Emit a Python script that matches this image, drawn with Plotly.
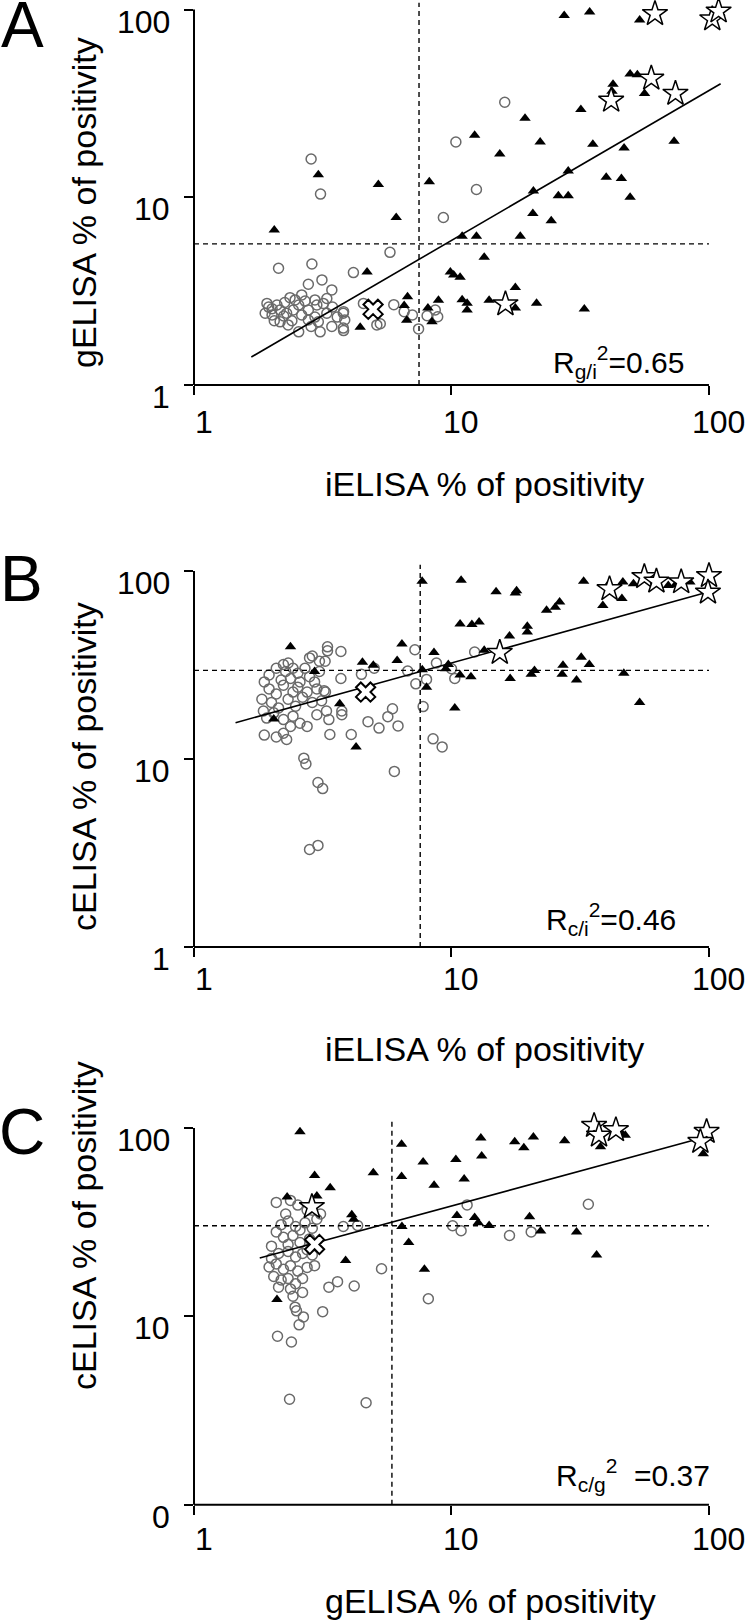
import plotly.graph_objects as go

# ---- panel A : iELISA (x) vs gELISA (y) ----
a_circ_x = [16.1, 10.4, 12.5, 9.3, 5.77, 2.85, 3.10, 2.13, 2.87, 4.16, 3.14, 2.78, 3.43,
            2.36, 2.62, 2.95, 3.28, 1.92, 2.10, 1.89, 2.01, 2.16, 2.29, 2.43, 2.55, 2.78, 3.0,
            3.18, 3.28, 2.78, 3.04, 3.43, 3.80, 3.80, 3.85, 2.16, 2.32, 2.55, 3.09, 2.47, 2.01,
            2.23, 2.62, 2.95, 4.55, 5.13, 1.95, 2.25, 2.70, 3.45, 2.40, 2.85, 2.05, 3.60,
            5.97, 5.29, 6.55, 7.05, 7.45, 8.04, 8.65, 8.84, 3.81, 3.81]
a_circ_y = [32.1, 19.7, 11.0, 7.8, 5.09, 16.0, 10.4, 4.19, 4.41, 3.97, 3.63, 3.44, 3.21,
            2.92, 3.02, 2.84, 2.89, 2.72, 2.67, 2.41, 2.36, 2.51, 2.41, 2.51, 2.67, 2.51, 2.67,
            2.72, 2.41, 2.22, 2.17, 2.05, 2.01, 2.41, 2.22, 2.17, 2.09, 1.92, 1.92, 2.84, 2.55,
            2.33, 2.36, 2.30, 2.72, 2.09, 2.60, 2.75, 2.80, 2.60, 2.20, 2.05, 2.20, 2.30,
            2.68, 2.12, 2.46, 2.36, 1.99, 2.34, 2.51, 2.31, 2.46, 1.95]
a_tri_x = [27.4, 34.4, 53.8, 49.4, 52.7, 42.4, 42.0, 56.2, 31.8, 19.3, 12.3, 22.1, 35.4, 73.2,
           15.4, 46.8, 28.4, 39.9, 45.7, 8.2, 5.2, 3.04, 20.8, 26.0, 28.4, 49.4, 20.7, 24.4,
           6.1, 2.05, 11.0, 12.5, 18.5, 13.4, 4.7, 9.9, 10.2, 10.8, 17.7, 6.75, 8.9, 11.0,
           11.5, 11.5, 14.0, 17.7, 21.4, 32.8, 6.55, 6.7, 8.1, 8.4, 4.42]
a_tri_y = [93.1, 97.0, 88.0, 45.4, 45.0, 40.0, 36.7, 35.7, 29.4, 26.4, 21.4, 19.7, 19.2, 19.9,
           17.0, 18.3, 13.8, 12.8, 12.6, 12.1, 11.7, 13.2, 10.8, 10.2, 10.2, 10.0, 8.2, 7.5,
           7.8, 6.7, 6.2, 6.2, 6.2, 4.8, 4.0, 4.0, 3.86, 3.75, 3.31, 2.95, 2.83, 2.85,
           2.73, 2.51, 2.83, 2.57, 2.73, 2.54, 2.65, 2.21, 2.57, 2.17, 2.03]
a_star_x = [61.7, 103, 109, 59.7, 41.7, 74.1, 16.2]
a_star_y = [95.0, 89.0, 98.0, 43.0, 32.8, 35.7, 2.70]
a_cross_x = [4.96]
a_cross_y = [2.53]
a_fit_x = [1.67, 111]
a_fit_y = [1.41, 40.3]
a_cut_x = 7.48
a_cut_y = 5.65

# ---- panel B : iELISA (x) vs cELISA (y) ----
b_circ_x = [2.67, 2.72, 3.03, 3.16, 2.81, 3.03, 6.0, 8.48, 9.2, 7.76, 5.9, 5.66, 6.2, 5.23,
            4.74, 4.08, 3.37, 7.27, 8.0, 7.21, 12.3, 10.0, 10.3, 8.74, 6.76, 5.01, 4.47, 3.72,
            3.30, 3.30, 2.81, 3.23, 3.72, 3.24, 3.75, 3.75,
            1.875, 1.957, 2.087, 2.225, 2.322, 2.424, 2.53, 2.697, 2.81, 2.94, 1.957, 2.087,
            2.225, 2.37, 2.53, 2.75, 2.0, 2.13, 2.32, 2.48, 2.64, 2.88, 3.13, 1.915, 2.04,
            2.225, 2.424, 2.58, 2.75, 2.37, 2.225, 2.087, 1.875, 2.29, 3.0, 3.27, 3.34, 3.07,
            3.07, 2.88, 2.27, 2.18, 2.424, 2.58, 3.0, 3.2, 1.835, 1.86]
b_circ_y = [10.1, 9.42, 7.5, 6.96, 3.30, 3.47, 8.59, 12.8, 11.6, 19.0, 18.5, 16.8, 15.0, 14.6,
            15.8, 13.5, 13.5, 25.1, 26.5, 38.1, 37.1, 30.2, 26.8, 32.4, 29.4, 30.4, 28.2, 37.3,
            39.5, 37.6, 34.5, 33.1, 26.8, 22.7, 18.0, 17.2,
            25.7, 28.0, 30.4, 31.8, 32.4, 30.4, 28.6, 30.4, 27.4, 25.7, 23.6, 22.2,
            24.7, 26.8, 24.1, 22.7, 20.0, 18.7, 20.8, 19.1, 21.3, 20.0, 20.4, 16.5, 17.6,
            16.2, 16.9, 15.5, 14.9, 14.9, 13.7, 13.1, 13.4, 12.7, 17.2, 18.0, 16.2, 29.2,
            33.1, 35.3, 29.2, 26.3, 22.7, 25.7, 23.6, 23.1, 20.8, 18.0]
b_tri_x = [7.69, 10.9, 32.6, 14.9, 17.9, 17.7, 40.4, 46.3, 50.9, 69.5, 74.1, 84.3, 45.9, 38.7,
           26.3, 25.3, 23.4, 10.8, 12.0, 12.8, 19.7, 19.7, 16.8, 13.4, 2.37, 6.42, 8.55, 4.51,
           6.15, 4.97, 9.72, 9.5, 31.9, 34.3, 27.1, 21.0, 20.4, 26.9, 30.6, 16.9, 46.7, 53.8,
           11.9, 10.8, 10.3, 8.0, 7.7, 3.68, 4.26, 2.94, 2.04]
b_tri_y = [88.2, 89.3, 88.2, 77.6, 78.6, 76.5, 83.8, 87.4, 85.5, 83.8, 84.5, 87.4, 71.3, 65.6,
           68.4, 64.2, 61.8, 52.2, 52.0, 53.6, 50.9, 47.4, 45.1, 37.9, 39.5, 40.9, 36.8, 32.7,
           33.4, 31.5, 31.8, 30.2, 34.8, 31.8, 31.5, 29.6, 28.2, 28.2, 26.3, 26.8, 28.6, 20.0,
           27.4, 28.0, 18.7, 24.1, 29.8, 19.7, 11.6, 29.2, 16.3]
b_star_x = [15.4, 41.1, 56.1, 62.5, 78.0, 100, 99.1]
b_star_y = [36.8, 80.3, 93.1, 88.1, 87.4, 94.3, 77.0]
b_cross_x = [4.64]
b_cross_y = [22.7]
b_fit_x = [1.45, 100]
b_fit_y = [15.6, 77.6]
b_cut_x = 7.56
b_cut_y = 29.6

# ---- panel C : gELISA (x) vs cELISA (y) ----
c_circ_x = [2.35, 4.66, 2.11, 2.39, 2.56, 2.66, 3.16, 2.47, 2.5, 8.13, 5.35, 3.61, 3.34, 4.19,
            11.5, 10.9, 10.1, 16.8, 20.4, 34.0, 3.8, 4.32,
            2.087, 2.37, 2.53, 2.75, 3.10, 2.18, 2.32, 2.48, 2.70, 2.88, 3.0, 2.087, 2.225,
            2.424, 2.58, 2.81, 2.0, 2.13, 2.32, 2.48, 2.64, 2.88, 1.957, 2.087, 2.225, 2.37,
            2.53, 2.75, 2.94, 2.04, 2.18, 2.32, 2.48, 2.64, 2.13, 2.37, 2.64, 2.424, 2.58,
            2.75, 2.32, 2.88, 2.27, 2.0]
c_circ_y = [3.63, 3.48, 7.85, 7.31, 9.02, 9.94, 10.6, 11.2, 10.7, 12.4, 17.9, 15.3, 14.3, 14.5,
            39.1, 28.5, 30.3, 26.9, 28.1, 39.4, 30.0, 30.4,
            40.3, 41.3, 39.0, 36.6, 35.0, 30.7, 32.1, 30.0, 31.4, 29.4, 32.8, 28.1, 26.3,
            26.9, 24.7, 25.8, 23.6, 21.6, 22.1, 20.7, 21.6, 21.2, 18.3, 19.0, 17.8, 18.6,
            17.4, 18.2, 18.6, 16.3, 15.6, 15.9, 14.9, 15.9, 14.3, 14.0, 13.4, 12.8, 28.8,
            22.6, 24.1, 36.6, 35.0, 20.3]
c_tri_x = [2.58, 13.0, 17.6, 20.8, 19.1, 27.5, 6.4, 37.9, 47.3, 45.9, 95.0, 13.1, 10.4, 7.76,
           2.94, 4.97, 6.4, 11.2, 8.56, 3.38, 2.30, 3.0, 4.10, 4.17, 10.5, 12.3, 20.1, 14.0,
           12.7, 6.42, 22.2, 30.6, 6.82, 3.88, 7.85, 36.6, 2.10]
c_tri_y = [95.7, 88.5, 84.7, 89.7, 78.6, 85.8, 82.1, 79.7, 91.6, 93.5, 73.0, 71.1, 68.1, 66.0,
           56.1, 57.9, 55.4, 53.7, 49.7, 48.2, 43.0, 43.6, 34.7, 32.8, 34.3, 33.5, 33.8, 30.4,
           31.4, 30.0, 28.4, 28.1, 24.7, 19.8, 17.8, 21.2, 12.3]
c_star_x = [2.87, 35.8, 37.4, 43.5, 97.9, 92.6]
c_star_y = [38.2, 103, 91.6, 97.8, 95.7, 84.7]
c_cross_x = [2.94]
c_cross_y = [24.1]
c_fit_x = [1.80, 100]
c_fit_y = [20.4, 90.8]
c_cut_x = 5.87
c_cut_y = 30.3

tick_vals = [1, 10, 100]
x_tick_text = ["1", "10", "100"]

FONT = "Liberation Sans, Arial, sans-serif"
W, H = 750, 1621
X_LEFT, X_RIGHT = 194, 727   # pixels of the x axes (log 0 .. log X_TOP)
X_TOP = 2.07


def px(x):
    # pixel -> paper fraction
    return x / W


def py(y):
    return min(1.0, max(0.0, 1 - y / H))


panels = [
    dict(letter="A", circ=(a_circ_x, a_circ_y), tri=(a_tri_x, a_tri_y), star=(a_star_x, a_star_y),
         cross=(a_cross_x, a_cross_y), fit=(a_fit_x, a_fit_y), cut=(a_cut_x, a_cut_y),
         bottom=385, ytop=2.037, dec=187.7, yticks=["1", "10", "100"], xlab_y=422,
         xtitle="iELISA % of positivity", ytitle="gELISA % of positivity",
         r2="R<sub>g/i</sub><sup>2</sup>=0.65", r2pos=(1.911, 0.12),
         letter_pos=(22, 25), xt_pos=(485, 484), yt_pos=(84, 203)),
    dict(letter="B", circ=(b_circ_x, b_circ_y), tri=(b_tri_x, b_tri_y), star=(b_star_x, b_star_y),
         cross=(b_cross_x, b_cross_y), fit=(b_fit_x, b_fit_y), cut=(b_cut_x, b_cut_y),
         bottom=947, ytop=2.033, dec=188.0, yticks=["1", "10", "100"], xlab_y=979,
         xtitle="iELISA % of positivity", ytitle="cELISA % of positivity",
         r2="R<sub>c/i</sub><sup>2</sup>=0.46", r2pos=(1.88, 0.15),
         letter_pos=(21, 579), xt_pos=(484, 1049), yt_pos=(84, 767)),
    dict(letter="C", circ=(c_circ_x, c_circ_y), tri=(c_tri_x, c_tri_y), star=(c_star_x, c_star_y),
         cross=(c_cross_x, c_cross_y), fit=(c_fit_x, c_fit_y), cut=(c_cut_x, c_cut_y),
         bottom=1504.7, ytop=2.05, dec=188.3, yticks=["0", "10", "100"], xlab_y=1539,
         xtitle="gELISA % of positivity", ytitle="cELISA % of positivity",
         r2="R<sub>c/g</sub><sup>2</sup>\u00a0\u00a0=0.37", r2pos=(2.01, 0.16),
         letter_pos=(22, 1132), xt_pos=(491, 1601), yt_pos=(84, 1226)),
]

fig = go.Figure()
layout = dict(width=W, height=H, margin=dict(l=0, r=0, t=0, b=0, autoexpand=False),
              paper_bgcolor="white", plot_bgcolor="white", showlegend=False,
              font=dict(family=FONT, color="black"))
shapes = []
annotations = []
tick_font = dict(size=32, family=FONT, color="black")

for i, p in enumerate(panels):
    n = "" if i == 0 else str(i + 1)
    xa, ya = "x" + n, "y" + n
    top_px = p["bottom"] - p["ytop"] * p["dec"]
    layout["xaxis" + n] = dict(
        type="log", range=[0, X_TOP], domain=[px(X_LEFT), px(X_RIGHT)], anchor=ya,
        tickvals=tick_vals, showticklabels=False, automargin=False,
        ticks="outside", ticklen=9, tickwidth=2, tickcolor="black",
        showline=False, showgrid=False, zeroline=False)
    layout["yaxis" + n] = dict(
        type="log", range=[0, p["ytop"]], domain=[py(p["bottom"]), py(top_px)], anchor=xa,
        tickvals=tick_vals, showticklabels=False, automargin=False,
        ticks="outside", ticklen=9, tickwidth=2, tickcolor="black",
        showline=False, showgrid=False, zeroline=False)

    # axis lines stop at 100 like the original
    shapes.append(dict(type="line", xref=xa + " domain", yref=ya + " domain",
                       x0=0, x1=0, y0=0, y1=2 / p["ytop"], line=dict(color="black", width=2)))
    shapes.append(dict(type="line", xref=xa + " domain", yref=ya + " domain",
                       x0=0, x1=2 / X_TOP, y0=0, y1=0, line=dict(color="black", width=2)))

    cx, cy = p["circ"]
    fig.add_trace(go.Scatter(x=cx, y=cy, mode="markers", xaxis=xa, yaxis=ya,
                             marker=dict(symbol="circle-open", size=10, color="#6a6a6a",
                                         line=dict(width=1.5))))
    tx, ty = p["tri"]
    fig.add_trace(go.Scatter(x=tx, y=ty, mode="markers", xaxis=xa, yaxis=ya,
                             marker=dict(symbol="triangle-up", size=10, color="black")))
    fx, fy = p["fit"]
    fig.add_trace(go.Scatter(x=fx, y=fy, mode="lines", xaxis=xa, yaxis=ya,
                             line=dict(color="black", width=1.6)))
    vx, hy = p["cut"]
    fig.add_trace(go.Scatter(x=[vx, vx], y=[1, 200], mode="lines", xaxis=xa, yaxis=ya,
                             line=dict(color="black", width=1.4, dash="5px,4px")))
    fig.add_trace(go.Scatter(x=[1, 100], y=[hy, hy], mode="lines", xaxis=xa, yaxis=ya,
                             line=dict(color="black", width=1.4, dash="5px,4px")))
    sx, sy = p["star"]
    fig.add_trace(go.Scatter(x=sx, y=sy, mode="markers", xaxis=xa, yaxis=ya, cliponaxis=False,
                             marker=dict(symbol="star", size=19, color="white",
                                         line=dict(color="black", width=1.5))))
    kx, ky = p["cross"]
    fig.add_trace(go.Scatter(x=kx, y=ky, mode="markers", xaxis=xa, yaxis=ya,
                             marker=dict(symbol="x", size=17, color="white",
                                         line=dict(color="black", width=2))))

    # tick labels sit a little off their ticks in the original (right / below)
    for k, t in enumerate(x_tick_text):
        annotations.append(dict(text=t, xref=xa, yref="paper", x=k, y=py(p["xlab_y"]),
                                xanchor="center", yanchor="middle", xshift=10,
                                showarrow=False, font=tick_font))
    for k, t in enumerate(p["yticks"]):
        annotations.append(dict(text=t, xref="paper", yref=ya, x=px(172), y=k,
                                xanchor="right", yanchor="middle", yshift=-12,
                                showarrow=False, font=tick_font))

    lx, ly = p["letter_pos"]
    annotations.append(dict(text=p["letter"], xref="paper", yref="paper", x=px(lx), y=py(ly),
                            xanchor="center", yanchor="middle", showarrow=False,
                            font=dict(size=64, family=FONT, color="black")))
    tx_, ty_ = p["xt_pos"]
    annotations.append(dict(text=p["xtitle"], xref="paper", yref="paper", x=px(tx_), y=py(ty_),
                            xanchor="center", yanchor="middle", showarrow=False,
                            font=dict(size=34, family=FONT, color="black")))
    yx_, yy_ = p["yt_pos"]
    annotations.append(dict(text=p["ytitle"], xref="paper", yref="paper", x=px(yx_), y=py(yy_),
                            xanchor="center", yanchor="middle", textangle=-90, showarrow=False,
                            font=dict(size=34, family=FONT, color="black")))
    rx, ry = p["r2pos"]
    annotations.append(dict(text=p["r2"], xref=xa, yref=ya, x=rx, y=ry, xanchor="right",
                            yanchor="middle", showarrow=False,
                            font=dict(size=30, family=FONT, color="black")))

layout["shapes"] = shapes
layout["annotations"] = annotations
fig.update_layout(**layout)
# drop the default 8px body margin so the figure fills the page exactly, and hide the modebar
fig.write_html("out.html", config={"displayModeBar": False},
               post_script="document.body.style.margin = '0';")
